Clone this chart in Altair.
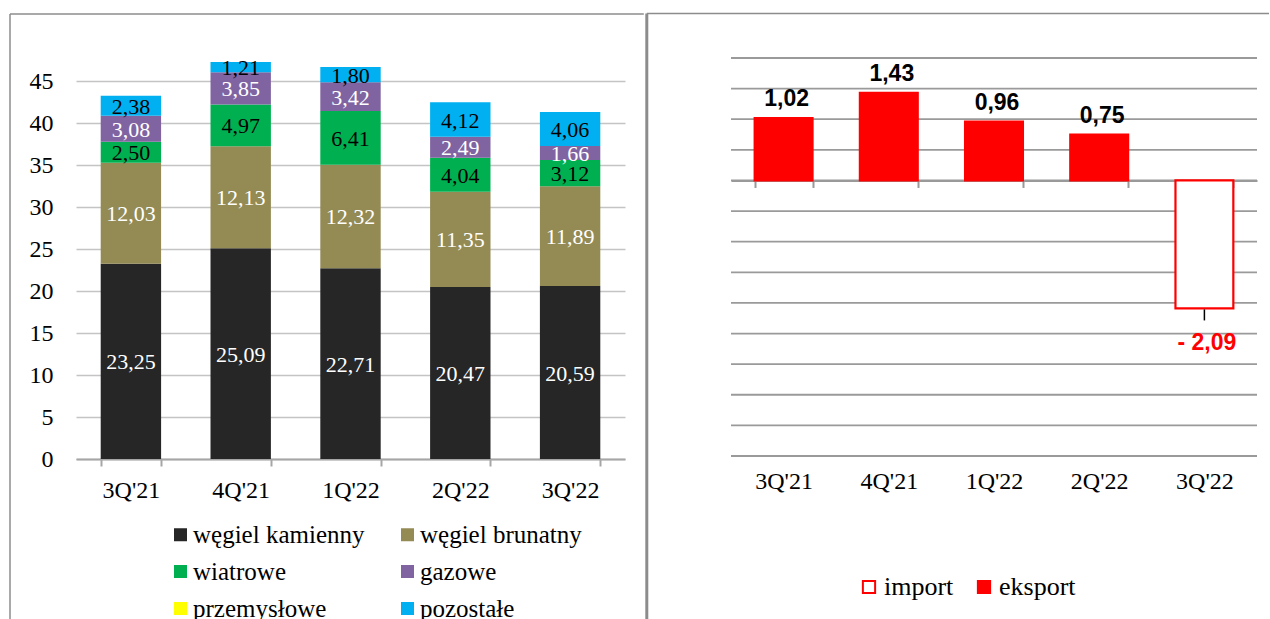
import altair as alt
import numpy as np
import pandas as pd

# Quarters shown on both panels
quarters = ["3Q'21", "4Q'21", "1Q'22", "2Q'22", "3Q'22"]

# Generation by source (TWh), stacked bottom to top
wegiel_kamienny = [23.25, 25.09, 22.71, 20.47, 20.59]
wegiel_brunatny = [12.03, 12.13, 12.32, 11.35, 11.89]
wiatrowe = [2.50, 4.97, 6.41, 4.04, 3.12]
gazowe = [3.08, 3.85, 3.42, 2.49, 1.66]
przemyslowe = [0.0, 0.0, 0.0, 0.0, 0.0]
pozostale = [2.38, 1.21, 1.80, 4.12, 4.06]

series_names = ["węgiel kamienny", "węgiel brunatny", "wiatrowe", "gazowe",
                "przemysłowe", "pozostałe"]
series_values = [wegiel_kamienny, wegiel_brunatny, wiatrowe, gazowe,
                 przemyslowe, pozostale]

# Cross-border balance (TWh): positive = export, negative = import
saldo = [1.02, 1.43, 0.96, 0.75, -2.09]
saldo_grid = [-4.5, -4.0, -3.5, -3.0, -2.5, -2.0, -1.5, -1.0, -0.5,
              0.0, 0.5, 1.0, 1.5, 2.0]

# ---- styling -------------------------------------------------------------
SERIF = "Liberation Serif"
SANS = "Liberation Sans"
palette = dict(zip(series_names,
                   ["#262626", "#948a54", "#00b050", "#8064a2", "#ffff00", "#00b0f0"]))
# legend is filled column by column: two columns of three entries
legend_order = ["węgiel kamienny", "wiatrowe", "przemysłowe",
                "węgiel brunatny", "gazowe", "pozostałe"]
white_label_series = ["węgiel kamienny", "węgiel brunatny", "gazowe"]
RED = "#ff0000"
FRAME = "#8c8c8c"

LW, LH = 549, 420          # left plot area
RW, RH = 526, 417          # right plot area
R_DOMAIN = [-4.5, 2.31]


def pl(v):
    return f"{v:.2f}".replace(".", ",")


# ---- left panel: stacked generation mix ----------------------------------
rows = []
for i, q in enumerate(quarters):
    base = 0.0
    for name, vals in zip(series_names, series_values):
        v = vals[i]
        rows.append({"q": q, "seria": name, "v": v, "y0": base, "y1": base + v,
                     "mid": base + v / 2, "label": pl(v),
                     "white": name in white_label_series})
        base += v
mix = pd.DataFrame(rows)

x_left = alt.X(
    "q:N", sort=quarters, title=None,
    scale=alt.Scale(paddingInner=0.45, paddingOuter=0.225),
    axis=alt.Axis(labelAngle=0, labelFont=SERIF, labelFontSize=24, labelColor="#000000",
                  domainColor="#a6a6a6", domainWidth=2, tickColor="#a6a6a6", tickWidth=2,
                  tickSize=7, tickBand="extent", labelPadding=12, grid=False),
)
y_left = alt.Y(
    "y0:Q", title=None,
    scale=alt.Scale(domain=[0, 50], nice=False),
    axis=alt.Axis(values=list(range(0, 50, 5)), labelFont=SERIF, labelFontSize=24,
                  labelColor="#000000", labelPadding=23, domain=False, ticks=False,
                  grid=True, gridColor="#c4c4c4", gridWidth=1.6),
)

mix_bars = alt.Chart(mix).mark_bar().encode(
    x=x_left,
    y=y_left,
    y2="y1:Q",
    color=alt.Color(
        "seria:N",
        scale=alt.Scale(domain=legend_order, range=[palette[s] for s in legend_order]),
        legend=alt.Legend(title=None, orient="none", legendX=92, legendY=483,
                          columns=2, columnPadding=30, rowPadding=11,
                          symbolType="square", symbolSize=169, symbolStrokeWidth=0,
                          labelFont=SERIF, labelFontSize=25, labelColor="#000000",
                          labelOffset=0, labelLimit=400),
    ),
)

mix_labels = []
for is_white, col in [(True, "#ffffff"), (False, "#000000")]:
    sub = mix[(mix["v"] > 0) & (mix["white"] == is_white)]
    mix_labels.append(
        alt.Chart(sub).mark_text(font=SERIF, fontSize=22, baseline="middle", color=col, dy=1)
        .encode(x=x_left, y=alt.Y("mid:Q"), text="label:N")
    )

one_row = alt.Data(values=[{"k": 0}])
left_frame = [
    alt.Chart(one_row).mark_rule(color=FRAME, strokeWidth=1.5)
    .encode(x=alt.value(-66), x2=alt.value(567.8), y=alt.value(-25)),
    alt.Chart(one_row).mark_rule(color=FRAME, strokeWidth=1.5)
    .encode(x=alt.value(-66), y=alt.value(-25), y2=alt.value(580)),
]

left = alt.layer(*left_frame, mix_bars, *mix_labels).properties(width=LW, height=LH)

# ---- right panel: export / import balance --------------------------------
flow = pd.DataFrame({"q": quarters, "v": saldo})
flow["kier"] = np.where(flow["v"] < 0, "import", "eksport")
flow["label"] = [pl(v) if v >= 0 else "- " + pl(-v) for v in flow["v"]]
grid_df = pd.DataFrame({"g": saldo_grid})

zero_offset = -RH * (0 - R_DOMAIN[0]) / (R_DOMAIN[1] - R_DOMAIN[0])

x_right = alt.X(
    "q:N", sort=quarters, title=None,
    scale=alt.Scale(paddingInner=0.45, paddingOuter=0.225),
    axis=alt.Axis(orient="bottom", offset=zero_offset, labelAngle=0, labelFont=SERIF,
                  labelFontSize=24, labelColor="#000000", labelPadding=282,
                  tickSize=7, tickBand="extent", domainColor="#999999", domainWidth=2,
                  tickColor="#999999", tickWidth=2, grid=False),
)
y_scale_r = alt.Scale(domain=R_DOMAIN, nice=False)
y_axis_r = alt.Axis(labels=False, ticks=False, domain=False, grid=False)

grid_lines = alt.Chart(grid_df).mark_rule(color="#9a9a9a", strokeWidth=1.8).encode(
    y=alt.Y("g:Q", title=None, scale=y_scale_r, axis=y_axis_r)
)

flow_bars = alt.Chart(flow).mark_bar(stroke=RED, strokeWidth=2.2).encode(
    x=x_right,
    y=alt.Y("v:Q", title=None, scale=y_scale_r, axis=y_axis_r),
    fill=alt.Fill(
        "kier:N",
        scale=alt.Scale(domain=["import", "eksport"], range=["#ffffff", RED]),
        legend=alt.Legend(title=None, orient="none", legendX=780, legendY=535,
                          direction="horizontal", columnPadding=17,
                          symbolType="square", symbolSize=150,
                          symbolStrokeColor=RED, symbolStrokeWidth=2,
                          labelFont=SERIF, labelFontSize=26, labelColor="#000000",
                          labelOffset=2, labelLimit=300),
    ),
)

pos_labels = alt.Chart(flow[flow["v"] > 0]).mark_text(
    font=SANS, fontWeight="bold", fontSize=23, baseline="alphabetic",
    dy=-12, dx=3, color="#000000",
).encode(x=x_right, y="v:Q", text="label:N")

neg = flow[flow["v"] < 0]
neg_labels = alt.Chart(neg).mark_text(
    font=SANS, fontWeight="bold", fontSize=23, baseline="alphabetic",
    dy=42, dx=2.5, color=RED,
).encode(x=x_right, y="v:Q", text="label:N")

leader = alt.Chart(neg).mark_rule(color="#000000", strokeWidth=1.5, yOffset=1,
                                  y2Offset=12).encode(x=x_right, y="v:Q", y2="v:Q")

right_frame = [
    alt.Chart(one_row).mark_rule(color=FRAME, strokeWidth=1.5)
    .encode(x=alt.value(-84.2), x2=alt.value(538), y=alt.value(-25.5)),
    alt.Chart(one_row).mark_rule(color=FRAME, strokeWidth=3)
    .encode(x=alt.value(-84.2), y=alt.value(-25.5), y2=alt.value(580)),
]

right = alt.layer(*right_frame, grid_lines, flow_bars, leader, pos_labels,
                  neg_labels).properties(width=RW, height=RH)

chart = (
    alt.hconcat(left, right, spacing=0)
    .properties(padding={"left": 9, "top": 12, "right": 0, "bottom": 0})
    .configure_view(strokeWidth=0)
)

chart.save("out.html", embed_options={"renderer": "svg", "actions": False})
